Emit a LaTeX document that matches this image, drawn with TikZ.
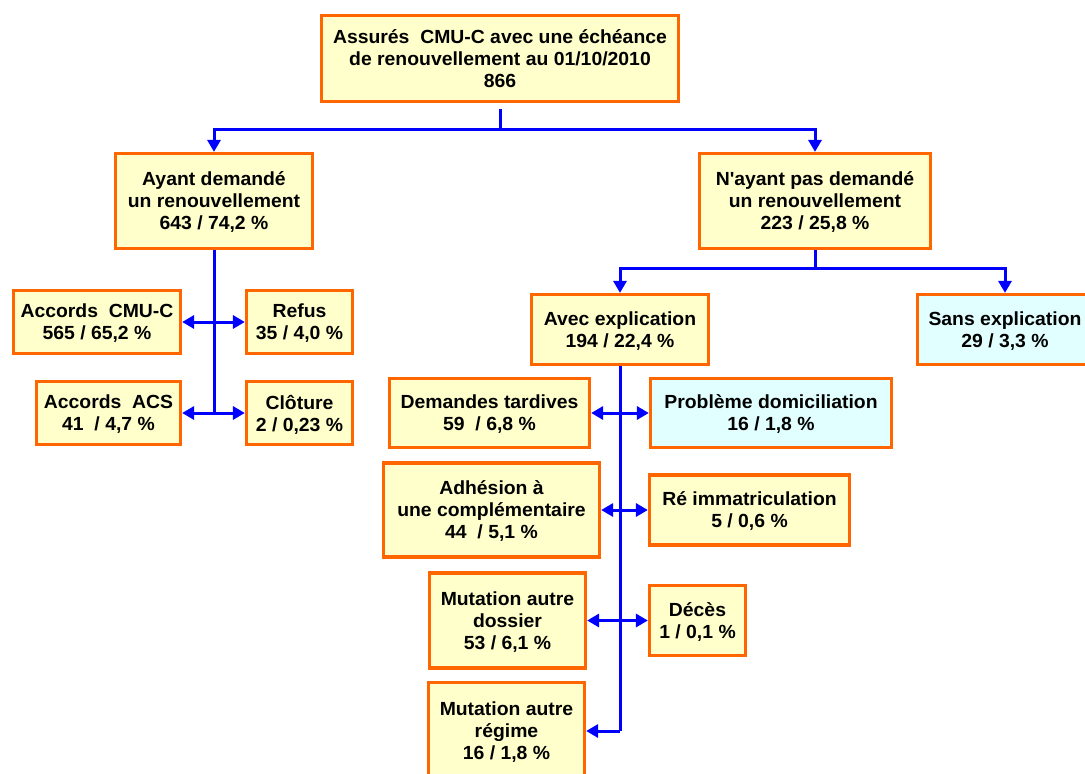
\documentclass[tikz,border=0pt]{standalone}
\usepackage{fontspec}
\setmainfont{Liberation Sans}[FakeStretch=1.02]
\usetikzlibrary{arrows.meta}
\definecolor{borange}{RGB}{255,102,0}
\definecolor{byellow}{RGB}{255,255,204}
\definecolor{bcyan}{RGB}{226,255,255}
\definecolor{lblue}{RGB}{0,0,255}
\tikzset{
  box/.style={draw=borange, line width=3.2pt, fill=byellow, align=center, inner sep=0pt,
    text depth=-4pt, font=\fontsize{19}{22}\selectfont\bfseries},
  cbox/.style={box, fill=bcyan},
  link/.style={draw=lblue, line width=3pt},
  tip/.tip={Triangle[length=12pt,width=13pt]},
  arr/.style={link, -tip},
  darr/.style={link, tip-tip}
}
\begin{document}
\begin{tikzpicture}[x=1pt,y=-1pt]
\useasboundingbox (0,0) rectangle (1085,774);
\clip (0,0) rectangle (1085,774);
% boxes
\node[box, minimum width=357pt, minimum height=86pt] (top) at (500,58.5)
  {Assurés~ CMU-C avec une échéance\\de renouvellement au 01/10/2010\\866};
\node[box, minimum width=197pt, minimum height=95pt] (ayant) at (214,201)
  {Ayant demandé\\un renouvellement\\643 / 74,2 \%};
\node[box, minimum width=231pt, minimum height=95pt] (nayant) at (815,201)
  {N\textquotesingle ayant pas demandé\\un renouvellement\\223 / 25,8 \%};
\node[box, minimum width=167pt, minimum height=63pt] (cmu) at (97,322)
  {Accords~ CMU-C\\565 / 65,2 \%};
\node[box, minimum width=106pt, minimum height=63pt] (refus) at (299.5,322)
  {Refus\\35 / 4,0 \%};
\node[box, minimum width=144pt, minimum height=63pt] (acs) at (108.5,413)
  {Accords~ ACS\\41~ / 4,7 \%};
\node[box, minimum width=106pt, minimum height=63pt] (cloture) at (299.5,413)
  {Clôture\\2 / 0,23 \%};
\node[box, minimum width=177pt, minimum height=70pt] (avec) at (620,329.5)
  {Avec explication\\194 / 22,4 \%};
\node[cbox, minimum width=175pt, minimum height=70pt] (sans) at (1005,329.5)
  {Sans explication\\29 / 3,3 \%};
\node[box, minimum width=200pt, minimum height=69pt] (demandes) at (489.5,413)
  {Demandes tardives\\59~ / 6,8 \%};
\node[cbox, minimum width=241pt, minimum height=69pt] (probleme) at (771,413)
  {Problème domiciliation\\16 / 1,8 \%};
\node[box, minimum width=216pt, minimum height=94pt] (adhesion) at (491.5,510)
  {Adhésion à\\une complémentaire\\44~ / 5,1 \%};
\node[box, minimum width=200pt, minimum height=70pt] (re) at (749.5,510)
  {Ré immatriculation\\5 / 0,6 \%};
\node[box, minimum width=156pt, minimum height=95pt] (dossier) at (507.5,620.5)
  {Mutation autre\\dossier\\53 / 6,1 \%};
\node[box, minimum width=96pt, minimum height=70pt] (deces) at (697.5,620.5)
  {Décès\\1 / 0,1 \%};
\node[box, minimum width=156pt, minimum height=97pt] (regime) at (506.5,731)
  {Mutation autre\\régime\\16 / 1,8 \%};
% top connectors
\path (top.south) ++(0,26) coordinate (j1);
\draw[link, shorten <=6pt] (top.south) -- (j1);
\draw[arr] (j1) -| (ayant.north);
\draw[arr] (j1) -| (nayant.north);
% left branch
\coordinate (lt) at (ayant.south |- acs.east);
\draw[link] (ayant.south) -- (lt);
\draw[darr] (cmu.east) -- (refus.west);
\draw[darr] (acs.east) -- (cloture.west);
% right branch
\path (nayant.south) ++(0,18) coordinate (j2);
\draw[link] (nayant.south) -- (j2);
\draw[arr] (j2) -| (avec.north);
\draw[arr] (j2) -| (sans.north);
\coordinate (rt) at (avec.south |- regime.east);
\draw[link] (avec.south) -- (rt);
\draw[darr] (demandes.east) -- (probleme.west);
\draw[darr] (adhesion.east) -- (re.west);
\draw[darr] (dossier.east) -- (dossier.east -| deces.west);
\draw[arr] (rt) -- (regime.east);
\end{tikzpicture}
\end{document}
